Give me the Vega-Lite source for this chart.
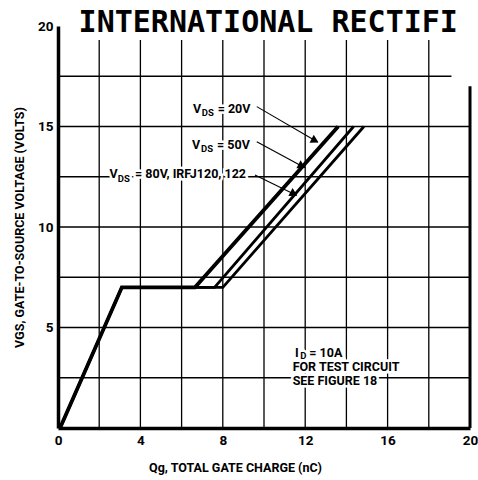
{
  "$schema": "https://vega.github.io/schema/vega-lite/v6.json",
  "width": 412,
  "height": 402,
  "autosize": "none",
  "padding": {"left": 58, "top": 26, "right": 8, "bottom": 52},
  "background": "white",
  "view": {"stroke": null},
  "config": {
    "font": "Roboto",
    "axis": {
      "domainColor": "black",
      "domainWidth": 3.5,
      "ticks": false,
      "grid": false,
      "labelFont": "Roboto",
      "labelFontWeight": "bold",
      "labelFontSize": 13.5,
      "labelColor": "black",
      "labelPadding": 5,
      "labelFlush": false,
      "labelOverlap": false,
      "titleFont": "Roboto",
      "titleFontWeight": "bold",
      "titleFontSize": 12.5,
      "titleColor": "black"
    }
  },
  "datasets": {
    "curves": [
      {"series": "20V", "q": 0.1, "v": 0},
      {"series": "20V", "q": 3.1, "v": 7},
      {"series": "20V", "q": 6.65, "v": 7},
      {"series": "20V", "q": 13.6, "v": 15},
      {"series": "50V", "q": 0.1, "v": 0},
      {"series": "50V", "q": 3.1, "v": 7},
      {"series": "50V", "q": 7.6, "v": 7},
      {"series": "50V", "q": 14.35, "v": 15},
      {"series": "80V", "q": 0.1, "v": 0},
      {"series": "80V", "q": 3.1, "v": 7},
      {"series": "80V", "q": 8.0, "v": 7},
      {"series": "80V", "q": 14.85, "v": 15}
    ],
    "vgrid": [
      {"gx": 2, "gy0": 0, "gy1": 19.3},
      {"gx": 4, "gy0": 0, "gy1": 19.3},
      {"gx": 6, "gy0": 0, "gy1": 19.3},
      {"gx": 8, "gy0": 0, "gy1": 19.3},
      {"gx": 10, "gy0": 0, "gy1": 19.3},
      {"gx": 12, "gy0": 0, "gy1": 19.3},
      {"gx": 14, "gy0": 0, "gy1": 19.3},
      {"gx": 16, "gy0": 0, "gy1": 19.3},
      {"gx": 18, "gy0": 0, "gy1": 19.3}
    ],
    "hgrid": [
      {"hy": 2.5, "hx0": 0, "hx1": 20},
      {"hy": 5, "hx0": 0, "hx1": 20},
      {"hy": 7.5, "hx0": 0, "hx1": 20},
      {"hy": 10, "hx0": 0, "hx1": 20},
      {"hy": 12.5, "hx0": 0, "hx1": 20},
      {"hy": 15, "hx0": 0, "hx1": 20},
      {"hy": 17.5, "hx0": 0, "hx1": 19.1}
    ],
    "border": [{"gx": 20, "gy0": 0, "gy1": 17}],
    "arrows": [
      {"ax": 9.65, "ay": 15.99, "bx": 12.6, "by": 14.23},
      {"ax": 9.65, "ay": 14.24, "bx": 11.96, "by": 12.96},
      {"ax": 9.56, "ay": 12.59, "bx": 11.57, "by": 11.58}
    ],
    "heads": [
      {"hq": 12.48, "hv": 14.3},
      {"hq": 11.84, "hv": 13.03},
      {"hq": 11.45, "hv": 11.65}
    ],
    "labels": [
      {"lq": 6.55, "lv": 15.65, "text": "V"},
      {"lq": 7.75, "lv": 15.65, "text": "= 20V"},
      {"lq": 6.51, "lv": 13.88, "text": "V"},
      {"lq": 7.72, "lv": 13.88, "text": "= 50V"},
      {"lq": 2.5, "lv": 12.42, "text": "V"},
      {"lq": 3.74, "lv": 12.42, "text": "= 80V, IRFJ120, 122"},
      {"lq": 11.5, "lv": 3.55, "text": "I"},
      {"lq": 12.2, "lv": 3.55, "text": "= 10A"},
      {"lq": 11.39, "lv": 2.85, "text": "FOR TEST CIRCUIT"},
      {"lq": 11.39, "lv": 2.14, "text": "SEE FIGURE 18"}
    ],
    "subs": [
      {"sq": 6.98, "sv": 15.5, "text": "DS"},
      {"sq": 6.94, "sv": 13.73, "text": "DS"},
      {"sq": 2.9, "sv": 12.25, "text": "DS"},
      {"sq": 11.76, "sv": 3.45, "text": "D"}
    ],
    "heading": [{"tq": 1.0, "tv": 19.72, "text": "INTERNATIONAL RECTIFI"}]
  },
  "layer": [
    {
      "data": {"name": "vgrid"},
      "mark": {"type": "rule", "color": "black", "strokeWidth": 1.3},
      "encoding": {
        "x": {"field": "gx", "type": "quantitative", "scale": {"domain": [0, 20]}, "axis": {"values": [0, 4, 8, 12, 16, 20], "title": "Qg, TOTAL GATE CHARGE (nC)", "titleX": 177, "titleY": 43, "titleBaseline": "alphabetic", "titleAlign": "center"}},
        "y": {"field": "gy0", "type": "quantitative", "scale": {"domain": [0, 20]}, "axis": {"values": [5, 10, 15, 20], "title": "VGS, GATE-TO-SOURCE VOLTAGE (VOLTS)", "titleAngle": 270, "titleX": -35, "titleY": 201, "titleBaseline": "alphabetic", "titleAlign": "center"}},
        "y2": {"field": "gy1"}
      }
    },
    {
      "data": {"name": "hgrid"},
      "mark": {"type": "rule", "color": "black", "strokeWidth": 1.3},
      "encoding": {
        "y": {"field": "hy", "type": "quantitative", "scale": {"domain": [0, 20]}},
        "x": {"field": "hx0", "type": "quantitative", "scale": {"domain": [0, 20]}},
        "x2": {"field": "hx1"}
      }
    },
    {
      "data": {"name": "border"},
      "mark": {"type": "rule", "color": "black", "strokeWidth": 3},
      "encoding": {
        "x": {"field": "gx", "type": "quantitative", "scale": {"domain": [0, 20]}},
        "y": {"field": "gy0", "type": "quantitative", "scale": {"domain": [0, 20]}},
        "y2": {"field": "gy1"}
      }
    },
    {
      "data": {"name": "curves"},
      "transform": [{"filter": "datum.series != '20V'"}],
      "mark": {"type": "line", "color": "black", "strokeWidth": 2.8},
      "encoding": {
        "x": {"field": "q", "type": "quantitative", "scale": {"domain": [0, 20]}},
        "y": {"field": "v", "type": "quantitative", "scale": {"domain": [0, 20]}},
        "detail": {"field": "series"}
      }
    },
    {
      "data": {"name": "curves"},
      "transform": [{"filter": "datum.series == '20V'"}],
      "mark": {"type": "line", "color": "black", "strokeWidth": 3.8},
      "encoding": {
        "x": {"field": "q", "type": "quantitative", "scale": {"domain": [0, 20]}},
        "y": {"field": "v", "type": "quantitative", "scale": {"domain": [0, 20]}}
      }
    },
    {
      "data": {"name": "labels"},
      "mark": {"type": "text", "align": "left", "baseline": "alphabetic", "fontSize": 12.5, "fontWeight": "bold", "font": "Roboto", "color": "white", "stroke": "white", "strokeWidth": 5},
      "encoding": {
        "x": {"field": "lq", "type": "quantitative", "scale": {"domain": [0, 20]}},
        "y": {"field": "lv", "type": "quantitative", "scale": {"domain": [0, 20]}},
        "text": {"field": "text"}
      }
    },
    {
      "data": {"name": "subs"},
      "mark": {"type": "text", "align": "left", "baseline": "alphabetic", "fontSize": 9.5, "fontWeight": "bold", "font": "Roboto", "color": "white", "stroke": "white", "strokeWidth": 5},
      "encoding": {
        "x": {"field": "sq", "type": "quantitative", "scale": {"domain": [0, 20]}},
        "y": {"field": "sv", "type": "quantitative", "scale": {"domain": [0, 20]}},
        "text": {"field": "text"}
      }
    },
    {
      "data": {"name": "arrows"},
      "mark": {"type": "rule", "color": "black", "strokeWidth": 1.1},
      "encoding": {
        "x": {"field": "ax", "type": "quantitative", "scale": {"domain": [0, 20]}},
        "y": {"field": "ay", "type": "quantitative", "scale": {"domain": [0, 20]}},
        "x2": {"field": "bx"},
        "y2": {"field": "by"}
      }
    },
    {
      "data": {"name": "heads"},
      "mark": {"type": "point", "shape": "triangle-right", "angle": 28, "filled": true, "color": "black", "opacity": 1, "size": 80},
      "encoding": {
        "x": {"field": "hq", "type": "quantitative", "scale": {"domain": [0, 20]}},
        "y": {"field": "hv", "type": "quantitative", "scale": {"domain": [0, 20]}}
      }
    },
    {
      "data": {"name": "labels"},
      "mark": {"type": "text", "align": "left", "baseline": "alphabetic", "fontSize": 12.5, "fontWeight": "bold", "font": "Roboto", "color": "black"},
      "encoding": {
        "x": {"field": "lq", "type": "quantitative", "scale": {"domain": [0, 20]}},
        "y": {"field": "lv", "type": "quantitative", "scale": {"domain": [0, 20]}},
        "text": {"field": "text"}
      }
    },
    {
      "data": {"name": "subs"},
      "mark": {"type": "text", "align": "left", "baseline": "alphabetic", "fontSize": 9.5, "fontWeight": "bold", "font": "Roboto", "color": "black"},
      "encoding": {
        "x": {"field": "sq", "type": "quantitative", "scale": {"domain": [0, 20]}},
        "y": {"field": "sv", "type": "quantitative", "scale": {"domain": [0, 20]}},
        "text": {"field": "text"}
      }
    },
    {
      "data": {"name": "heading"},
      "mark": {"type": "text", "align": "left", "baseline": "alphabetic", "fontSize": 30, "fontWeight": "bold", "font": "DejaVu Sans Mono", "color": "black"},
      "encoding": {
        "x": {"field": "tq", "type": "quantitative", "scale": {"domain": [0, 20]}},
        "y": {"field": "tv", "type": "quantitative", "scale": {"domain": [0, 20]}},
        "text": {"field": "text"}
      }
    }
  ]
}
